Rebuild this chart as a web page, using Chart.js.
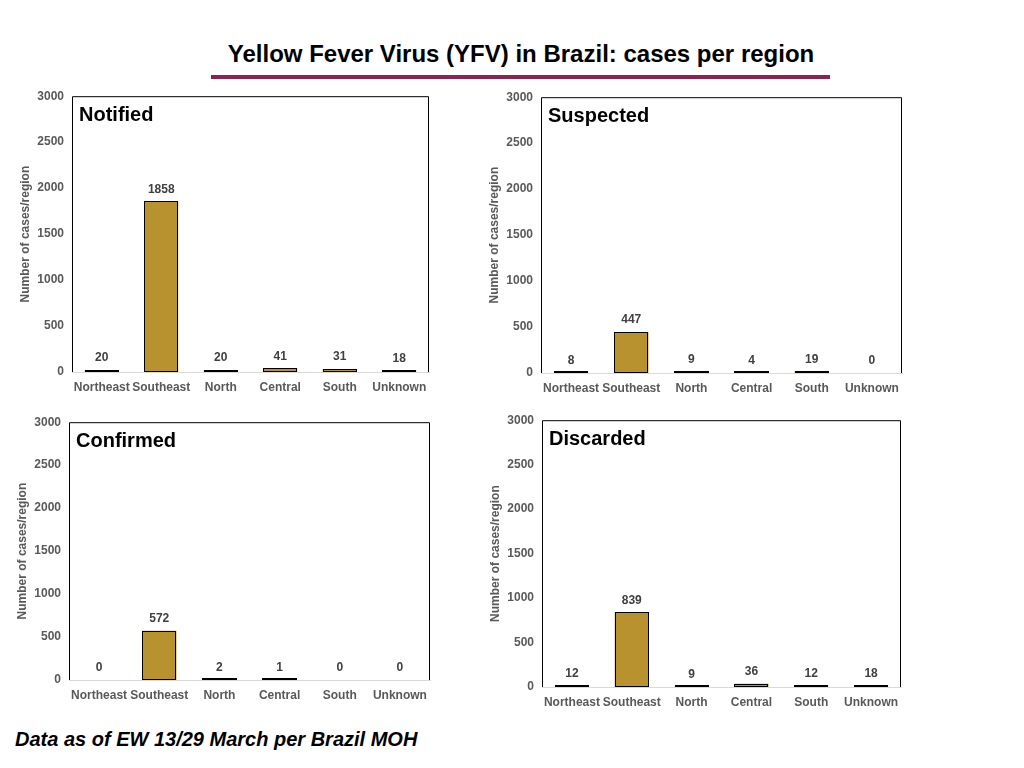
<!DOCTYPE html>
<html>
<head>
<meta charset="utf-8">
<script src="https://cdn.jsdelivr.net/npm/chart.js@4.4.1/dist/chart.umd.min.js"></script>
<style>
  body { margin: 0; background: #fff; font-family: "Liberation Sans", Arial, sans-serif; }
  #page { position: relative; width: 1024px; height: 768px; overflow: hidden; }
  #titre { position: absolute; left: 0; top: 42px; width: 1042px; text-align: center;
           font-weight: bold; font-size: 24px; line-height: 24px; color: #000; white-space: nowrap; }
  #trait { position: absolute; left: 211px; top: 75px; width: 619px; height: 4px; background: #8B2252; }
  #source { position: absolute; left: 15px; top: 729px; font-weight: bold; font-style: italic;
            font-size: 20px; line-height: 20px; color: #000; white-space: nowrap; }
  .panneau { position: absolute; }
</style>
</head>
<body>
<div id="page">
  <div id="titre">Yellow Fever Virus (YFV) in Brazil: cases per region</div>
  <div id="trait"></div>

  <div class="panneau" style="left:0px;top:81px;width:440px;height:315px"><canvas id="c_notified"></canvas></div>
  <div class="panneau" style="left:470px;top:82px;width:443px;height:315px"><canvas id="c_suspected"></canvas></div>
  <div class="panneau" style="left:0px;top:407px;width:441px;height:297px"><canvas id="c_confirmed"></canvas></div>
  <div class="panneau" style="left:470px;top:405px;width:442px;height:306px"><canvas id="c_discarded"></canvas></div>

  <div id="source">Data as of EW 13/29 March per Brazil MOH</div>
</div>

<script>
// regions (categories)
var regions = ['Northeast', 'Southeast', 'North', 'Central', 'South', 'Unknown'];

// cases per region, one list per status
var notified  = [20, 1858, 20, 41, 31, 18];
var suspected = [8, 447, 9, 4, 19, 0];
var confirmed = [0, 572, 2, 1, 0, 0];
var discarded = [12, 839, 9, 36, 12, 18];

// y axis
var yMin = 0;
var yMax = 3000;
var yStep = 500;

var axisTitle = 'Number of cases/region';
var barColor = '#B8922F';
var greyText = '#595959';

Chart.defaults.font.family = '"Liberation Sans", Arial, sans-serif';
Chart.defaults.animation = false;

// cadre noir, contour des barres, nom du panneau, valeurs au-dessus des barres
var decorPlugin = {
    id: 'decor',
    afterDatasetsDraw: function (chart, args, opts) {
        var ctx = chart.ctx;
        var a = chart.chartArea;
        ctx.save();
        ctx.strokeStyle = '#000';
        ctx.lineWidth = 1;
        ctx.beginPath();
        ctx.moveTo(a.left + 0.5, a.bottom);
        ctx.lineTo(a.left + 0.5, a.top + 0.5);
        ctx.lineTo(a.right - 0.5, a.top + 0.5);
        ctx.lineTo(a.right - 0.5, a.bottom);
        ctx.stroke();

        var meta = chart.getDatasetMeta(0);
        var values = chart.data.datasets[0].data;

        // contour noir (comme PowerPoint, même pour les toutes petites barres)
        meta.data.forEach(function (bar, i) {
            if (values[i] === 0) return;
            var p = bar.getProps(['x', 'y', 'base', 'width'], true);
            var left = Math.round(p.x - p.width / 2);
            var right = Math.round(p.x + p.width / 2);
            var top = Math.round(p.y);
            var bottom = Math.round(p.base);
            var h = Math.max(bottom - top - 1, 1);
            ctx.strokeRect(left + 0.5, bottom - 0.5 - h, right - left - 1, h);
        });

        ctx.fillStyle = '#000';
        ctx.font = 'bold 20px "Liberation Sans", Arial, sans-serif';
        ctx.textAlign = 'left';
        ctx.textBaseline = 'alphabetic';
        ctx.fillText(opts.label, a.left + 7, a.top + 25);

        ctx.fillStyle = '#404040';
        ctx.font = 'bold 12px "Liberation Sans", Arial, sans-serif';
        ctx.textAlign = 'center';
        ctx.textBaseline = 'middle';
        meta.data.forEach(function (bar, i) {
            ctx.fillText(String(values[i]), bar.x, bar.y - 12);
        });
        ctx.restore();
    }
};

function makeChart(id, label, values, padLeft) {
    var ctx = document.getElementById(id).getContext('2d');
    return new Chart(ctx, {
        type: 'bar',
        data: {
            labels: regions,
            datasets: [{
                data: values,
                backgroundColor: barColor,
                borderWidth: 0,
                barPercentage: 0.57,
                categoryPercentage: 1
            }]
        },
        options: {
            responsive: true,
            maintainAspectRatio: false,
            layout: {
                padding: { left: padLeft, top: 5, right: 11, bottom: 0 }
            },
            scales: {
                x: {
                    grid: { display: false, drawTicks: false },
                    border: { display: true, color: '#D9D9D9', width: 1 },
                    ticks: {
                        color: greyText,
                        font: { size: 12, weight: 'bold' },
                        padding: 8,
                        autoSkip: false,
                        maxRotation: 0
                    },
                    afterFit: function (scale) { scale.height = 24; }
                },
                y: {
                    min: yMin,
                    max: yMax,
                    grid: { display: false, drawTicks: false },
                    border: { display: false },
                    ticks: {
                        stepSize: yStep,
                        color: greyText,
                        font: { size: 12, weight: 'bold' },
                        padding: 8,
                        callback: function (v) { return String(v); }
                    },
                    title: {
                        display: true,
                        text: axisTitle,
                        color: greyText,
                        font: { size: 12, weight: 'bold' },
                        padding: { top: 8, bottom: 0 }
                    },
                    afterFit: function (scale) { scale.width = 62; }
                }
            },
            plugins: {
                legend: { display: false },
                tooltip: { enabled: false },
                decor: { label: label }
            }
        },
        plugins: [decorPlugin]
    });
}

makeChart('c_notified', 'Notified', notified, 10);
makeChart('c_suspected', 'Suspected', suspected, 9);
makeChart('c_confirmed', 'Confirmed', confirmed, 7);
makeChart('c_discarded', 'Discarded', discarded, 10);
</script>
</body>
</html>
